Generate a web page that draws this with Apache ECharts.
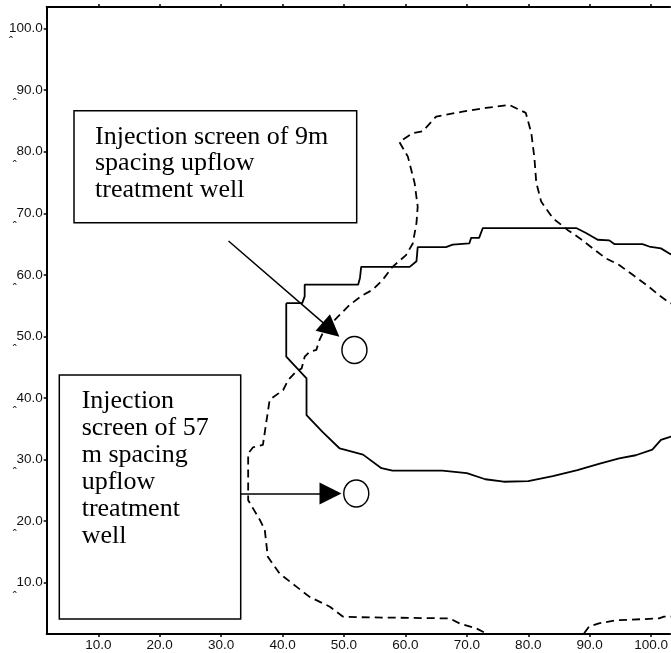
<!DOCTYPE html>
<html><head><meta charset="utf-8">
<script src="https://cdn.jsdelivr.net/npm/echarts@6/dist/echarts.min.js"></script>
<style>html,body{margin:0;padding:0;background:#fff}#c{width:671px;height:653px}</style>
</head><body><div id="c"></div>
<script>
// ---- data ----
const xTicks = [10, 20, 30, 40, 50, 60, 70, 80, 90, 100];
const yTicks = [10, 20, 30, 40, 50, 60, 70, 80, 90, 100];

// solid contour (9 m spacing)
const solidX = [40.6, 43.2, 43.6, 43.6, 52.3, 52.6, 52.8, 60.7, 61.8, 62.0, 66.6, 67.7, 70.4, 70.7, 72.0, 72.6, 87.8, 89.4, 91.3, 93.2, 94.0, 98.6, 99.7, 101.6, 103.1, 106, 106, 103.1, 101.6, 100.2, 97.5, 94.8, 91.5, 88.0, 84.0, 80.0, 76.0, 73.0, 70.0, 66.0, 62.0, 57.9, 56.1, 53.1, 49.3, 46.5, 43.9, 43.9, 40.6, 40.6];
const solidY = [55.4, 55.4, 56.5, 58.4, 58.4, 59.5, 61.3, 61.3, 62.2, 64.5, 64.5, 64.9, 65.1, 66.0, 66.0, 67.6, 67.6, 66.8, 65.7, 65.6, 65.0, 65.0, 64.6, 64.3, 63.4, 62.0, 35.0, 33.7, 33.2, 31.6, 30.7, 30.2, 29.3, 28.3, 27.3, 26.5, 26.4, 26.8, 27.8, 28.2, 28.2, 28.2, 28.6, 30.8, 31.8, 34.5, 37.2, 43.2, 46.7, 55.4];

// dashed contour (57 m spacing)
const dashedX = [88, 89.1, 89.9, 91.5, 94.3, 101.3, 102.1, 106, 106, 103.1, 101.3, 99.2, 97.0, 94.8, 92.6, 90.5, 88.3, 86.4, 84.0, 82.1, 81.3, 81.0, 80.5, 79.6, 76.9, 73.1, 69.3, 65.0, 62.8, 61.2, 59.0, 60.4, 61.5, 62.0, 61.8, 61.2, 60.1, 57.9, 56.3, 54.7, 52.9, 50.9, 48.5, 46.8, 46.0, 45.5, 44.4, 43.6, 43.1, 42.2, 40.9, 40.1, 37.9, 37.4, 36.8, 35.2, 34.4, 34.4, 36.3, 37.1, 37.6, 39.5, 42.2, 44.4, 47.7, 49.8, 52.1, 67.2, 68.8, 71.5, 73.1, 74];
const dashedY = [0, 1.8, 2.9, 3.4, 3.9, 4.2, 4.5, 4.5, 55.0, 55.4, 56.7, 58.4, 60.0, 61.6, 62.7, 64.3, 66.0, 67.3, 69.2, 71.9, 75.0, 79.0, 83.0, 86.3, 87.6, 87.1, 86.5, 85.7, 83.3, 83.0, 81.6, 79.2, 74.9, 71.1, 68.4, 65.1, 63.2, 61.3, 59.2, 57.6, 56.6, 55.1, 52.7, 51.1, 49.4, 47.8, 47.5, 46.7, 44.8, 44.3, 42.9, 41.3, 39.7, 36.4, 32.4, 32.0, 31.0, 23.4, 20.2, 18.6, 14.2, 11.5, 9.4, 7.7, 6.1, 4.5, 4.4, 4.2, 3.4, 2.6, 1.8, 0];

// injection screens (wells)
const wellX = [51.7, 52.0];
const wellY = [47.8, 24.5];

// annotation arrows: [startX, startY, endX, endY]
const arrow1 = [31.2, 65.5, 47.9, 51.1];
const arrow2 = [33.1, 24.5, 47.8, 24.5];

// annotation texts
const box1Lines = ['Injection screen of 9m', 'spacing upflow', 'treatment well'];
const box2Lines = ['Injection', 'screen of 57', 'm spacing', 'upflow', 'treatment', 'well'];

// ---- chart ----
const zip = (a, b) => a.map((v, i) => [v, b[i]]);
const chart = echarts.init(document.getElementById('c'));
const axisFont = 'Liberation Sans, Arial, sans-serif';
const serif = 'Liberation Serif, Times New Roman, serif';

const xCommon = {
  type: 'value', min: 1.6, max: 103.1,
  splitLine: { show: false },
  axisLine: { show: true, onZero: false, lineStyle: { color: '#000', width: 2 } },
  axisTick: { show: true, inside: false, length: 3, customValues: xTicks, lineStyle: { color: '#000', width: 1.5 } }
};

chart.setOption({
  animation: false,
  backgroundColor: '#fff',
  grid: { left: 46.7, right: 0, top: 7, bottom: 19, containLabel: false },
  xAxis: [
    Object.assign({}, xCommon, {
      position: 'bottom',
      axisLabel: { show: true, customValues: xTicks, margin: 4, color: '#111', fontFamily: axisFont, fontSize: 13.5,
        formatter: v => v.toFixed(1) }
    }),
    Object.assign({}, xCommon, { position: 'top', axisLabel: { show: false } })
  ],
  yAxis: {
    type: 'value', min: 1.67, max: 103.5,
    splitLine: { show: false },
    axisLine: { show: true, onZero: false, lineStyle: { color: '#000', width: 2 } },
    axisTick: { show: true, inside: false, length: 3, customValues: yTicks, lineStyle: { color: '#000', width: 1.5 } },
    axisLabel: {
      show: true, customValues: yTicks, margin: 4, color: '#111', fontFamily: axisFont,
      padding: [15, 0, 0, 0],
      formatter: v => '{a|' + v.toFixed(1) + '}\n{b|ˆ}',
      rich: {
        a: { fontSize: 13.5, lineHeight: 14, fontFamily: axisFont, color: '#111' },
        b: { fontSize: 12, lineHeight: 15, width: 30, align: 'left', fontFamily: axisFont, color: '#111' }
      }
    }
  },
  series: [
    {
      type: 'line', name: 'solid', data: zip(solidX, solidY), xAxisIndex: 0,
      symbol: 'none', clip: true, smooth: false,
      lineStyle: { color: '#000', width: 1.8 }
    },
    {
      type: 'line', name: 'dashed', data: zip(dashedX, dashedY), xAxisIndex: 0,
      symbol: 'none', clip: true,
      lineStyle: { color: '#000', width: 1.8, type: [8, 5] }
    },
    {
      type: 'lines', coordinateSystem: 'cartesian2d', xAxisIndex: 0,
      symbol: ['none', 'triangle'], symbolSize: [20, 22],
      lineStyle: { color: '#000', width: 1.5, opacity: 1, curveness: 0 },
      itemStyle: { color: '#000' },
      data: [
        { coords: [[arrow1[0], arrow1[1]], [arrow1[2], arrow1[3]]] },
        { coords: [[arrow2[0], arrow2[1]], [arrow2[2], arrow2[3]]] }
      ],
      z: 5
    },
    {
      type: 'scatter', name: 'wells', data: zip(wellX, wellY), xAxisIndex: 0,
      symbol: 'circle', symbolSize: [25, 27],
      itemStyle: { color: '#fff', borderColor: '#000', borderWidth: 1.5, opacity: 1 },
      z: 6
    }
  ],
  graphic: [
    { type: 'rect', shape: { x: 74, y: 110.7, width: 282.7, height: 112 },
      style: { fill: '#fff', stroke: '#000', lineWidth: 1.5 }, z: 10 },
    { type: 'text', x: 95, y: 123.4, z: 11,
      style: { text: box1Lines.join('\n'), font: '26px ' + serif, lineHeight: 26.6, fill: '#000' } },
    { type: 'rect', shape: { x: 59.3, y: 375, width: 181.4, height: 244 },
      style: { fill: '#fff', stroke: '#000', lineWidth: 1.5 }, z: 10 },
    { type: 'text', x: 81.7, y: 387.5, z: 11,
      style: { text: box2Lines.join('\n'), font: '26px ' + serif, lineHeight: 27.1, fill: '#000' } }
  ]
});
</script>
</body></html>
